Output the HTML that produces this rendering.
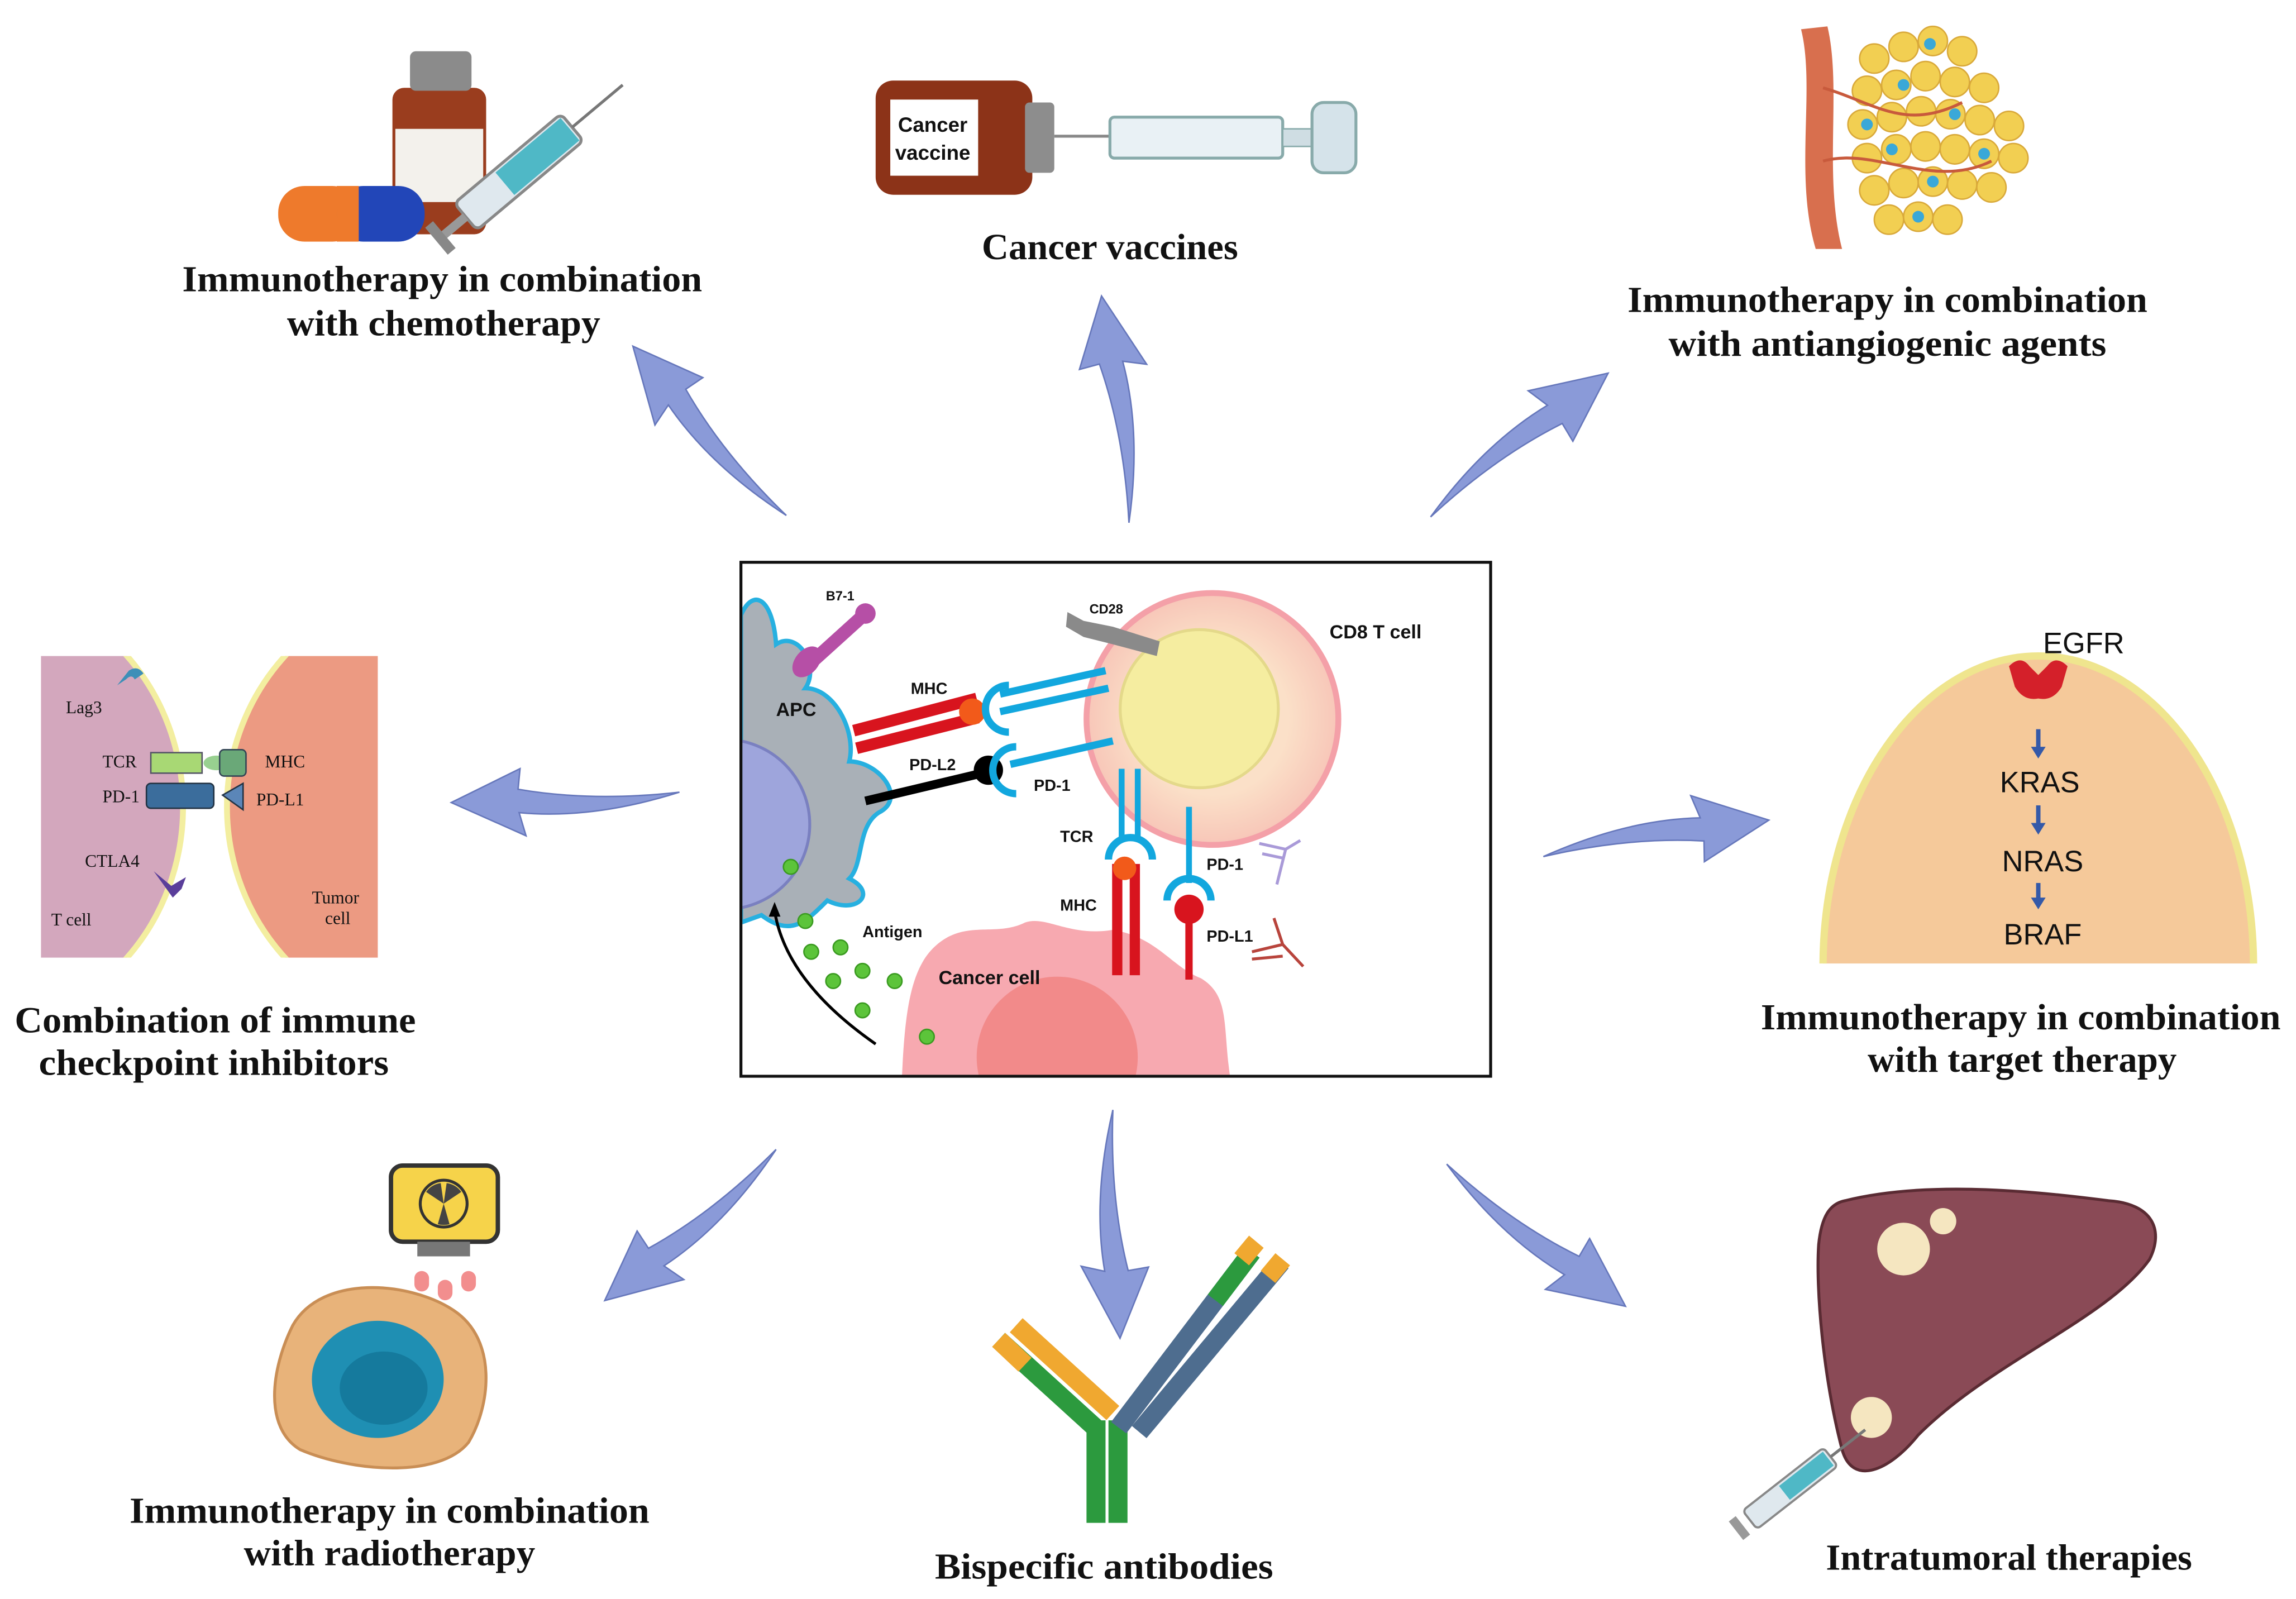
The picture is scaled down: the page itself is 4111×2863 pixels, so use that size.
<!DOCTYPE html>
<html><head><meta charset="utf-8"><style>
html,body{margin:0;padding:0;background:#fff;}
svg{display:block;}
.lab{font-family:"Liberation Serif",serif;font-weight:bold;font-size:25px;fill:#111;text-anchor:middle;}
.s{font-family:"Liberation Sans",sans-serif;font-weight:bold;fill:#111;}
.sm{font-family:"Liberation Serif",serif;font-size:12px;fill:#111;}
.tg{font-family:"Liberation Sans",sans-serif;font-size:20px;fill:#111;text-anchor:middle;}
</style></head><body>
<svg width="4111" height="2863" viewBox="0 0 1568 1092" preserveAspectRatio="none" xmlns="http://www.w3.org/2000/svg">
<defs>
<path id="arr" d="M0,0 Q60,-16 110,-9 L106,-25 L156,0 L108,21 L110,7 Q60,-4 0,0 Z" fill="#8a9ad8" stroke="#6677bb" stroke-width="1"/>
<clipPath id="box"><rect x="507" y="385" width="510" height="349"/></clipPath>
<clipPath id="ck"><rect x="28" y="448" width="230" height="206"/></clipPath>
<clipPath id="dome"><rect x="1240" y="440" width="310" height="218"/></clipPath>
<radialGradient id="tg" cx="0.5" cy="0.5" r="0.5"><stop offset="0.6" stop-color="#fbe0c8"/><stop offset="1" stop-color="#f7c6b8"/></radialGradient>
</defs>

<!-- arrows -->
<use href="#arr" transform="translate(537,352) rotate(-132.2)"/>
<use href="#arr" transform="translate(771,357) rotate(-96.9) scale(1,-1)"/>
<use href="#arr" transform="translate(977,353) rotate(-39)"/>
<use href="#arr" transform="translate(464,541) rotate(177.4)"/>
<use href="#arr" transform="translate(1054,585) rotate(-9.2)"/>
<use href="#arr" transform="translate(530,785) rotate(138.6)"/>
<use href="#arr" transform="translate(760,758) rotate(88.2) scale(1,-1)"/>
<use href="#arr" transform="translate(988,795) rotate(38.5) scale(1,-1)"/>

<!-- labels -->
<text class="lab" x="302" y="199" textLength="355" lengthAdjust="spacingAndGlyphs">Immunotherapy in combination</text>
<text class="lab" x="303" y="229" textLength="214" lengthAdjust="spacingAndGlyphs">with chemotherapy</text>
<text class="lab" x="758" y="177" textLength="175" lengthAdjust="spacingAndGlyphs">Cancer vaccines</text>
<text class="lab" x="1289" y="213" textLength="355" lengthAdjust="spacingAndGlyphs">Immunotherapy in combination</text>
<text class="lab" x="1289" y="243" textLength="299" lengthAdjust="spacingAndGlyphs">with antiangiogenic agents</text>
<text class="lab" x="147" y="705" textLength="274" lengthAdjust="spacingAndGlyphs">Combination of immune</text>
<text class="lab" x="146" y="734" textLength="239" lengthAdjust="spacingAndGlyphs">checkpoint inhibitors</text>
<text class="lab" x="1380" y="703" textLength="355" lengthAdjust="spacingAndGlyphs">Immunotherapy in combination</text>
<text class="lab" x="1381" y="732" textLength="211" lengthAdjust="spacingAndGlyphs">with target therapy</text>
<text class="lab" x="266" y="1040" textLength="355" lengthAdjust="spacingAndGlyphs">Immunotherapy in combination</text>
<text class="lab" x="266" y="1069" textLength="199" lengthAdjust="spacingAndGlyphs">with radiotherapy</text>
<text class="lab" x="754" y="1078" textLength="231" lengthAdjust="spacingAndGlyphs">Bispecific antibodies</text>
<text class="lab" x="1372" y="1072" textLength="250" lengthAdjust="spacingAndGlyphs">Intratumoral therapies</text>

<!-- chemo illustration -->
<rect x="268" y="60" width="64" height="100" rx="8" fill="#9a3d1e"/>
<rect x="280" y="35" width="42" height="27" rx="4" fill="#8b8b8b"/>
<rect x="270" y="88" width="60" height="50" fill="#f3f1ec"/>
<rect x="190" y="127" width="55" height="38" rx="18" fill="#ee7a2c"/>
<rect x="230" y="127" width="60" height="38" rx="18" fill="#2246b8"/>
<rect x="230" y="127" width="15" height="38" fill="#ee7a2c"/>
<g transform="translate(318,148) rotate(-40)">
<rect x="0" y="-12" width="95" height="24" rx="4" fill="#dfe8ee" stroke="#888" stroke-width="2"/>
<rect x="35" y="-10" width="58" height="20" fill="#4fb8c6"/>
<rect x="-20" y="-3" width="20" height="6" fill="#999"/>
<rect x="-26" y="-12" width="7" height="24" fill="#888"/>
<line x1="95" y1="0" x2="140" y2="0" stroke="#777" stroke-width="2"/>
</g>

<!-- vaccine -->
<rect x="598" y="55" width="107" height="78" rx="12" fill="#8c3318"/>
<rect x="608" y="68" width="60" height="52" fill="#fff"/>
<text class="s" x="637" y="90" font-size="14" text-anchor="middle">Cancer</text>
<text class="s" x="637" y="109" font-size="14" text-anchor="middle">vaccine</text>
<rect x="700" y="70" width="20" height="48" rx="3" fill="#8d8d8d"/>
<line x1="720" y1="93" x2="758" y2="93" stroke="#888" stroke-width="2"/>
<rect x="758" y="80" width="118" height="28" rx="3" fill="#e9f1f5" stroke="#8aa" stroke-width="2"/>
<rect x="876" y="88" width="20" height="12" fill="#cfdde3" stroke="#8aa"/>
<rect x="896" y="70" width="30" height="48" rx="8" fill="#d5e3ea" stroke="#8aa" stroke-width="2"/>

<!-- antiangiogenic -->
<path d="M1230,20 C1240,60 1225,120 1240,170 L1258,170 C1245,120 1258,60 1248,18 Z" fill="#d86f4e"/>
<g fill="#f2cf52" stroke="#d9a93a" stroke-width="1">
<circle cx="1280" cy="40" r="10"/><circle cx="1300" cy="32" r="10"/><circle cx="1320" cy="28" r="10"/><circle cx="1340" cy="35" r="10"/>
<circle cx="1275" cy="62" r="10"/><circle cx="1295" cy="58" r="10"/><circle cx="1315" cy="52" r="10"/><circle cx="1335" cy="56" r="10"/><circle cx="1355" cy="60" r="10"/>
<circle cx="1272" cy="85" r="10"/><circle cx="1292" cy="80" r="10"/><circle cx="1312" cy="76" r="10"/><circle cx="1332" cy="78" r="10"/><circle cx="1352" cy="82" r="10"/><circle cx="1372" cy="86" r="10"/>
<circle cx="1275" cy="108" r="10"/><circle cx="1295" cy="102" r="10"/><circle cx="1315" cy="100" r="10"/><circle cx="1335" cy="102" r="10"/><circle cx="1355" cy="105" r="10"/><circle cx="1375" cy="108" r="10"/>
<circle cx="1280" cy="130" r="10"/><circle cx="1300" cy="125" r="10"/><circle cx="1320" cy="124" r="10"/><circle cx="1340" cy="126" r="10"/><circle cx="1360" cy="128" r="10"/>
<circle cx="1290" cy="150" r="10"/><circle cx="1310" cy="148" r="10"/><circle cx="1330" cy="150" r="10"/>
</g>
<g fill="#3aa8d8"><circle cx="1300" cy="58" r="4"/><circle cx="1335" cy="78" r="4"/><circle cx="1292" cy="102" r="4"/><circle cx="1355" cy="105" r="4"/><circle cx="1320" cy="124" r="4"/><circle cx="1318" cy="30" r="4"/><circle cx="1275" cy="85" r="4"/><circle cx="1310" cy="148" r="4"/></g>
<path d="M1245,60 C1280,70 1300,90 1340,70 M1245,110 C1280,100 1320,130 1360,110" stroke="#c85a3c" stroke-width="2" fill="none"/>

<!-- checkpoint -->
<g clip-path="url(#ck)">
<ellipse cx="-15" cy="551" rx="140" ry="150" fill="#d3a7bd" stroke="#f3eea0" stroke-width="4"/>
<ellipse cx="300" cy="551" rx="145" ry="150" fill="#ec9a82" stroke="#f3eea0" stroke-width="4"/>
</g>
<rect x="103" y="514" width="35" height="14" fill="#a8d874" stroke="#556" stroke-width="1"/>
<ellipse cx="148" cy="521" rx="9" ry="5" fill="#98d090"/>
<rect x="150" y="512" width="18" height="18" rx="3" fill="#6aa878" stroke="#345" stroke-width="1"/>
<rect x="100" y="535" width="46" height="17" rx="3" fill="#3b6d9c" stroke="#234" stroke-width="1"/>
<polygon points="152,543 166,535 166,553" fill="#5b86b8" stroke="#234"/>
<path d="M80,468 l8,-10 q6,-4 10,2 l-6,4 q-2,-4 -6,0 z" fill="#3d8fb8"/>
<path d="M105,595 l12,10 l10,-6 l-3,8 l-6,6 z" fill="#5a3e9a"/>
<text class="sm" x="45" y="487">Lag3</text>
<text class="sm" x="70" y="524">TCR</text>
<text class="sm" x="70" y="548">PD-1</text>
<text class="sm" x="58" y="592">CTLA4</text>
<text class="sm" x="35" y="632">T cell</text>
<text class="sm" x="181" y="524">MHC</text>
<text class="sm" x="175" y="550">PD-L1</text>
<text class="sm" x="213" y="617">Tumor</text>
<text class="sm" x="222" y="631">cell</text>

<!-- target therapy -->
<g clip-path="url(#dome)">
<ellipse cx="1392" cy="660" rx="147" ry="212" fill="#f5c99a" stroke="#efe58e" stroke-width="5"/>
</g>
<path d="M1372,455 q8,-8 14,0 l6,6 l6,-6 q6,-8 14,0 l-4,14 q-6,10 -16,8 q-10,2 -16,-8 z" fill="#d4202a"/>
<text class="tg" x="1423" y="446">EGFR</text>
<text class="tg" x="1393" y="541">KRAS</text>
<text class="tg" x="1395" y="595">NRAS</text>
<text class="tg" x="1395" y="645">BRAF</text>
<g stroke="#3459a8" stroke-width="3" fill="#3459a8">
<line x1="1392" y1="498" x2="1392" y2="512"/><polygon points="1387,510 1397,510 1392,518" stroke="none"/>
<line x1="1392" y1="550" x2="1392" y2="564"/><polygon points="1387,562 1397,562 1392,570" stroke="none"/>
<line x1="1392" y1="603" x2="1392" y2="615"/><polygon points="1387,613 1397,613 1392,621" stroke="none"/>
</g>

<!-- radiotherapy -->
<path d="M200,905 C220,870 280,875 310,895 C340,915 335,960 320,985 C300,1010 240,1005 205,990 C180,975 185,935 200,905 Z" fill="#e8b37a" stroke="#c98e55" stroke-width="2"/>
<ellipse cx="258" cy="942" rx="45" ry="40" fill="#1f8fb3"/>
<ellipse cx="262" cy="948" rx="30" ry="25" fill="#157a9d"/>
<rect x="267" y="796" width="73" height="52" rx="8" fill="#f6d34a" stroke="#333" stroke-width="3"/>
<circle cx="303" cy="822" r="16" fill="#f6d34a" stroke="#333" stroke-width="2"/>
<path d="M303,822 l-12,-8 a14,14 0 0,1 10,-6 z M303,822 l12,-8 a14,14 0 0,0 -10,-6 z M303,822 l-4,14 a14,14 0 0,0 8,0 z" fill="#444"/>
<rect x="285" y="848" width="36" height="10" fill="#777"/>
<rect x="283" y="868" width="10" height="14" rx="5" fill="#f28e8e"/>
<rect x="299" y="874" width="10" height="14" rx="5" fill="#f28e8e"/>
<rect x="315" y="868" width="10" height="14" rx="5" fill="#f28e8e"/>

<!-- antibody -->
<g stroke-linecap="butt">
<rect x="742" y="970" width="13" height="70" fill="#2c9a3e"/>
<rect x="757" y="970" width="13" height="70" fill="#2c9a3e"/>
<line x1="682" y1="915" x2="748" y2="975" stroke="#2c9a3e" stroke-width="13"/>
<line x1="694" y1="905" x2="760" y2="965" stroke="#f0a830" stroke-width="13"/>
<line x1="682" y1="915" x2="700" y2="932" stroke="#f0a830" stroke-width="13"/>
<line x1="764" y1="975" x2="855" y2="855" stroke="#4e6d8f" stroke-width="13"/>
<line x1="778" y1="978" x2="875" y2="862" stroke="#4e6d8f" stroke-width="13"/>
<line x1="830" y1="888" x2="855" y2="855" stroke="#2c9a3e" stroke-width="13"/>
<line x1="848" y1="860" x2="858" y2="848" stroke="#f0a830" stroke-width="13"/>
<line x1="866" y1="872" x2="876" y2="860" stroke="#f0a830" stroke-width="13"/>
</g>

<!-- liver -->
<path d="M1260,820 C1320,805 1400,815 1440,820 C1470,822 1478,840 1468,860 C1440,900 1360,930 1310,980 C1290,1005 1265,1015 1258,990 C1245,940 1240,880 1242,850 C1244,830 1250,822 1260,820 Z" fill="#8a4a56" stroke="#5a2b33" stroke-width="2"/>
<circle cx="1300" cy="853" r="18" fill="#f5e6c0"/>
<circle cx="1327" cy="834" r="9" fill="#f5e6c0"/>
<circle cx="1278" cy="968" r="14" fill="#f5e6c0"/>
<g transform="translate(1195,1038) rotate(-38)">
<rect x="0" y="-8" width="70" height="16" rx="3" fill="#dfe8ee" stroke="#888" stroke-width="1.5"/>
<rect x="30" y="-6" width="38" height="12" fill="#4fb8c6"/>
<line x1="70" y1="0" x2="100" y2="0" stroke="#777" stroke-width="2"/>
<rect x="-12" y="-8" width="6" height="16" fill="#999"/>
</g>

<!-- center box -->
<g clip-path="url(#box)">
<rect x="506" y="383" width="512" height="352" fill="#fff"/>
<path d="M506,420 C515,400 528,410 530,440 C545,430 560,455 550,470 C570,470 585,500 580,520 C600,520 620,545 600,555 C585,565 590,590 580,600 C600,610 585,625 565,615 C550,630 540,640 520,625 L506,630 Z" fill="#a9b0b7" stroke="#27b0e0" stroke-width="3"/>
<circle cx="495" cy="563" r="58" fill="#9ea5dc" stroke="#7a80c0" stroke-width="2"/>
<circle cx="828" cy="491" r="86" fill="url(#tg)" stroke="#f4a0a8" stroke-width="4"/>
<circle cx="819" cy="484" r="54" fill="#f5eda0" stroke="#e4d98a" stroke-width="2"/>
<path d="M616,735 C618,690 622,660 640,645 C660,628 680,640 700,630 C715,625 730,640 760,635 C790,640 800,660 820,668 C840,680 835,700 840,735 Z" fill="#f7a9b0"/>
<circle cx="722" cy="722" r="55" fill="#f28a8a"/>
<line x1="549" y1="457" x2="591" y2="419" stroke="#b64fa6" stroke-width="9" stroke-linecap="round"/>
<circle cx="591" cy="419" r="7" fill="#b64fa6"/>
<ellipse cx="551" cy="452" rx="8" ry="12" fill="#b64fa6" transform="rotate(40 551 452)"/>
<path d="M729,418 L740,424 L760,428 L792,438 L790,448 L760,440 L740,435 L728,428 Z" fill="#8a8a8a"/>
<line x1="583" y1="499" x2="667" y2="477" stroke="#d8141e" stroke-width="8"/>
<line x1="585" y1="511" x2="668" y2="490" stroke="#d8141e" stroke-width="8"/>
<circle cx="664" cy="486" r="9" fill="#f25a1a"/>
<path d="M689,468 A16,16 0 0,0 689,500" fill="none" stroke="#12a7de" stroke-width="5"/>
<line x1="683" y1="474" x2="755" y2="458" stroke="#12a7de" stroke-width="5"/>
<line x1="683" y1="486" x2="757" y2="470" stroke="#12a7de" stroke-width="5"/>
<line x1="591" y1="547" x2="675" y2="527" stroke="#000" stroke-width="6"/>
<circle cx="675" cy="526" r="10" fill="#000"/>
<path d="M694,510 A16,16 0 0,0 694,542" fill="none" stroke="#12a7de" stroke-width="5"/>
<line x1="690" y1="522" x2="760" y2="506" stroke="#12a7de" stroke-width="5"/>
<line x1="766" y1="525" x2="766" y2="572" stroke="#12a7de" stroke-width="4"/>
<line x1="777" y1="525" x2="777" y2="572" stroke="#12a7de" stroke-width="4"/>
<path d="M757,587 A15,15 0 0,1 787,587" fill="none" stroke="#12a7de" stroke-width="5"/>
<line x1="763" y1="590" x2="763" y2="666" stroke="#d8141e" stroke-width="7"/>
<line x1="775" y1="590" x2="775" y2="666" stroke="#d8141e" stroke-width="7"/>
<circle cx="768" cy="593" r="8" fill="#f25a1a"/>
<line x1="812" y1="551" x2="812" y2="603" stroke="#12a7de" stroke-width="4"/>
<path d="M797,615 A15,15 0 0,1 827,615" fill="none" stroke="#12a7de" stroke-width="5"/>
<circle cx="812" cy="621" r="10" fill="#d8141e"/>
<line x1="812" y1="621" x2="812" y2="669" stroke="#d8141e" stroke-width="5"/>
<g stroke="#a99ad8" stroke-width="2" fill="none"><path d="M860,576 L878,580 L888,574 M878,580 L872,604 M862,583 L876,586"/></g>
<g stroke="#b8443c" stroke-width="2" fill="none"><path d="M870,627 L876,645 L890,660 M876,645 L855,650 M855,655 L876,653"/></g>
<g fill="#5cc43a" stroke="#3a9a20" stroke-width="1">
<circle cx="540" cy="592" r="5"/><circle cx="550" cy="629" r="5"/><circle cx="554" cy="650" r="5"/><circle cx="574" cy="647" r="5"/><circle cx="589" cy="663" r="5"/><circle cx="569" cy="670" r="5"/><circle cx="611" cy="670" r="5"/><circle cx="589" cy="690" r="5"/><circle cx="633" cy="708" r="5"/>
</g>
<path d="M598,713 C565,690 535,660 529,622" fill="none" stroke="#000" stroke-width="2"/>
<polygon points="529,616 525,626 533,626" fill="#000"/>
<text class="s" x="564" y="410" font-size="9">B7-1</text>
<text class="s" x="744" y="419" font-size="9">CD28</text>
<text class="s" x="908" y="436" font-size="13">CD8 T cell</text>
<text class="s" x="530" y="489" font-size="13">APC</text>
<text class="s" x="622" y="474" font-size="11">MHC</text>
<text class="s" x="621" y="526" font-size="11">PD-L2</text>
<text class="s" x="706" y="540" font-size="11">PD-1</text>
<text class="s" x="724" y="575" font-size="11">TCR</text>
<text class="s" x="724" y="622" font-size="11">MHC</text>
<text class="s" x="824" y="594" font-size="11">PD-1</text>
<text class="s" x="824" y="643" font-size="11">PD-L1</text>
<text class="s" x="589" y="640" font-size="11">Antigen</text>
<text class="s" x="641" y="672" font-size="13">Cancer cell</text>
</g>
<rect x="506" y="384" width="512" height="351" fill="none" stroke="#111" stroke-width="2"/>
</svg>
</body></html>
